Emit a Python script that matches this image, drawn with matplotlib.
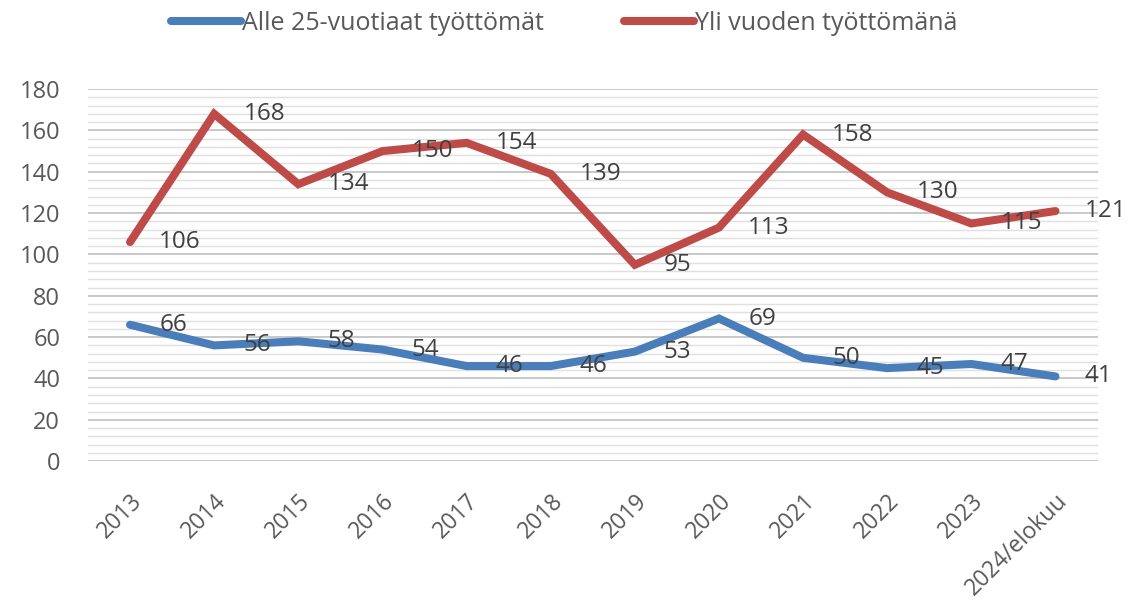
import matplotlib.pyplot as plt
import matplotlib.transforms as mtrans
from matplotlib.ticker import MultipleLocator

# Datos del gráfico
vuodet = ['2013', '2014', '2015', '2016', '2017', '2018', '2019', '2020',
          '2021', '2022', '2023', '2024/elokuu']
alle25 = [66, 56, 58, 54, 46, 46, 53, 69, 50, 45, 47, 41]
yli_vuoden = [106, 168, 134, 150, 154, 139, 95, 113, 158, 130, 115, 121]

sininen = '#4a7ebb'
punainen = '#be4b48'
harmaa = '#595959'

plt.rcParams['font.family'] = ['Open Sans', 'DejaVu Sans']

fig = plt.figure(figsize=(11.28, 6.06), dpi=100)
ax = fig.add_axes([0.078, 0.239, 0.895, 0.614])

x = list(range(len(vuodet)))
ax.plot(x, alle25, color=sininen, lw=5.8, solid_capstyle='round',
        solid_joinstyle='miter', label='Alle 25-vuotiaat työttömät', zorder=3)
ax.plot(x, yli_vuoden, color=punainen, lw=5.8, solid_capstyle='round',
        solid_joinstyle='miter', label='Yli vuoden työttömänä', zorder=3)

# Arvot pisteiden oikealle puolelle
for i in x:
    ax.annotate(str(alle25[i]), (i, alle25[i]), xytext=(21, 0),
                textcoords='offset points', va='center', ha='left',
                fontsize=17.5, color='#404040', zorder=4)
    ax.annotate(str(yli_vuoden[i]), (i, yli_vuoden[i]), xytext=(21, 0),
                textcoords='offset points', va='center', ha='left',
                fontsize=17.5, color='#404040', zorder=4)

ax.set_xlim(-0.5, len(vuodet) - 0.5)
ax.set_ylim(0, 180)
ax.yaxis.set_major_locator(MultipleLocator(20))
ax.yaxis.set_minor_locator(MultipleLocator(4))
ax.grid(which='major', axis='y', color='#bfbfbf', lw=1.2)
ax.grid(which='minor', axis='y', color='#e0e0e0', lw=1.0)
ax.set_axisbelow(True)
for s in ax.spines.values():
    s.set_visible(False)

ax.set_xticks(x)
ax.set_xticklabels(vuodet, rotation=45, ha='right', rotation_mode='anchor',
                   fontsize=16.5, color=harmaa)
siirto = mtrans.ScaledTranslation(-6 / 100, 0, fig.dpi_scale_trans)
for lbl in ax.get_xticklabels():
    lbl.set_transform(lbl.get_transform() + siirto)
ax.tick_params(axis='x', length=0, pad=20)
ax.tick_params(axis='y', which='both', length=0, labelsize=17,
               labelcolor=harmaa, pad=20)

fig.legend(*ax.get_legend_handles_labels(), loc='center',
           bbox_to_anchor=(0.5, 1 - 23 / 606), ncol=2, frameon=False,
           fontsize=18, labelcolor=harmaa, handlelength=2.8,
           handletextpad=0.05, columnspacing=3.2)

fig.savefig('out.png', dpi=100)
